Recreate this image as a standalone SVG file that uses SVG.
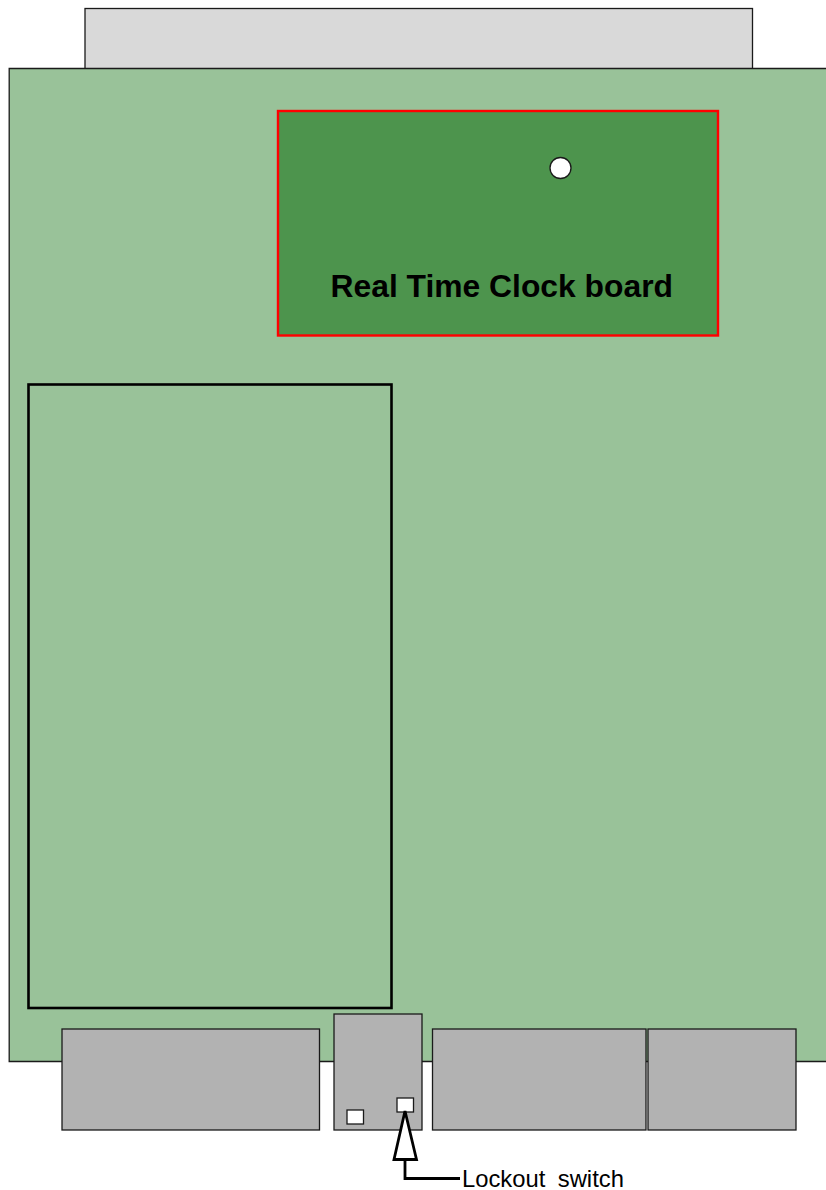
<svg xmlns="http://www.w3.org/2000/svg" width="826" height="1190" viewBox="0 0 826 1190">
<style>
.o{stroke:#1a1a1a;stroke-width:1.3}
.g{fill:#b2b2b2}
.w{fill:#fff;stroke:#1a1a1a;stroke-width:1.3}
text{font-family:"Liberation Sans",Arial,sans-serif;fill:#000}
</style>
<rect width="826" height="1190" fill="#fff"/>
<g id="top-connector"><rect class="o" x="85" y="8.500" width="667.500" height="60.500" fill="#d9d9d9"/></g>
<g id="main-board"><path class="o" d="M826 68.500H9.200V1061.500H826" fill="#99c299"/></g>
<g id="rtc-board"><rect x="278" y="111" width="440" height="224.500" fill="#4d944d" stroke="#f00" stroke-width="2.400"/>
<circle class="w" cx="560.500" cy="168" r="10.500"/>
<text x="330.500" y="297" font-size="31.800" font-weight="700" textLength="342.500" lengthAdjust="spacingAndGlyphs">Real Time Clock board</text></g>
<g id="module"><rect x="28.500" y="384.500" width="363" height="623.500" fill="none" stroke="#000" stroke-width="2.600"/></g>
<g id="port-1"><rect class="o g" x="62" y="1029" width="257.500" height="101"/></g>
<g id="port-2"><rect class="o g" x="334" y="1014" width="88" height="116"/>
<rect class="w" x="347" y="1110" width="16.500" height="14"/>
<rect class="w" x="397" y="1098" width="16.500" height="14"/></g>
<g id="port-3"><rect class="o g" x="432.500" y="1029" width="213.500" height="101"/></g>
<g id="port-4"><rect class="o g" x="648" y="1029" width="148" height="101"/></g>
<g id="connectors"><path d="M405 1159.500V1178.500H460" fill="none" stroke="#000" stroke-width="2.800"/>
<path d="M405 1111L394 1159.500H416.500Z" fill="#fff" stroke="#000" stroke-width="2.800"/></g>
<g id="lockout-label"><text x="462" y="1187" font-size="23.800" word-spacing="5.800">Lockout switch</text></g>
</svg>
